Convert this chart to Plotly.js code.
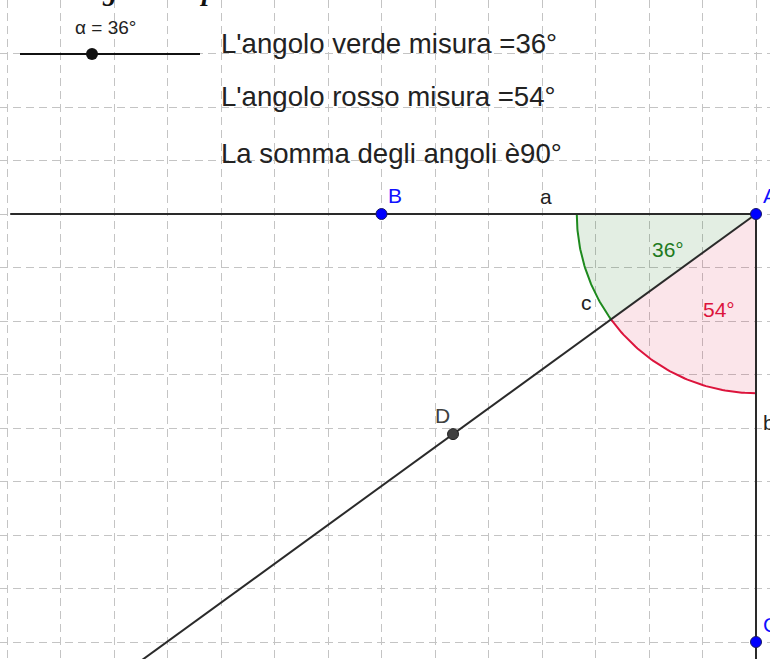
<!DOCTYPE html>
<html>
<head>
<meta charset="utf-8">
<script src="https://cdn.plot.ly/plotly-3.0.1.min.js"></script>
<style>html,body{margin:0;padding:0;background:#fff;}#plot{width:770px;height:659px;}</style>
</head>
<body>
<div id="plot"></div>
<script>
// ---- data ----
const alpha = 36;                       // slider value (degrees)
const sliderMin = 0, sliderMax = 90;
const pointNames = ['A', 'B', 'C', 'D'];
const pointX = [0, -7, 0, -5.663];
const pointY = [0, 0, -8, -4.114];
const segAX = [-13.94, 0];   // line a (horizontal)
const segAY = [0, 0];
const segBX = [0, 0];        // line b (vertical)
const segBY = [0, -8.6];
const sectorRadius = 3.35;
const textLines = [
  "L'angolo verde misura =" + alpha + "°",
  "L'angolo rosso misura =" + (90 - alpha) + "°",
  "La somma degli angoli è" + 90 + "°"
];
const titleText = "Angoli complementari";

// ---- view geometry ----
const W = 770, H = 659;
const unit = 53.5, ox = 756, oy = 214;
const xr = [(0 - ox) / unit, (W - ox) / unit];
const yr = [(oy - H) / unit, (oy - 0) / unit];
const px = p => (p - ox) / unit;
const py = p => (oy - p) / unit;

// line c through A and D, extended to bottom
const yEnd = -8.6;
const slope = (pointY[3] - pointY[0]) / (pointX[3] - pointX[0]);
const segCX = [pointX[0], pointX[0] + (yEnd - pointY[0]) / slope];
const segCY = [pointY[0], yEnd];

function sector(a0, a1, r) {
  const xs = [0], ys = [0];
  const n = 60;
  for (let i = 0; i <= n; i++) {
    const t = (a0 + (a1 - a0) * i / n) * Math.PI / 180;
    xs.push(r * Math.cos(t)); ys.push(r * Math.sin(t));
  }
  xs.push(0); ys.push(0);
  return {xs, ys};
}
function arc(a0, a1, r) {
  const xs = [], ys = [];
  const n = 60;
  for (let i = 0; i <= n; i++) {
    const t = (a0 + (a1 - a0) * i / n) * Math.PI / 180;
    xs.push(r * Math.cos(t)); ys.push(r * Math.sin(t));
  }
  return {xs, ys};
}
const green = sector(180, 180 + alpha, sectorRadius);
const red = sector(180 + alpha, 270, sectorRadius);
const greenArc = arc(180, 180 + alpha, sectorRadius);
const redArc = arc(180 + alpha, 270, sectorRadius);

// slider geometry
const sx0 = px(20), sx1 = px(200), sy = py(54);
const sliderPos = sx0 + (sx1 - sx0) * (alpha - sliderMin) / (sliderMax - sliderMin);

const lineCol = '#2a2a2a';
const traces = [
  {x: green.xs, y: green.ys, mode: 'lines', fill: 'toself', fillcolor: 'rgba(0,100,0,0.11)', line: {width: 0}, hoverinfo: 'skip'},
  {x: red.xs, y: red.ys, mode: 'lines', fill: 'toself', fillcolor: 'rgba(220,20,60,0.11)', line: {width: 0}, hoverinfo: 'skip'},
  {x: greenArc.xs, y: greenArc.ys, mode: 'lines', line: {color: '#1e8a1e', width: 2}},
  {x: redArc.xs, y: redArc.ys, mode: 'lines', line: {color: '#dc143c', width: 2}},
  {x: segAX, y: segAY, mode: 'lines', line: {color: lineCol, width: 2}},
  {x: segBX, y: segBY, mode: 'lines', line: {color: lineCol, width: 2}},
  {x: segCX, y: segCY, mode: 'lines', line: {color: lineCol, width: 2}},
  {x: [sx0, sx1], y: [sy, sy], mode: 'lines', line: {color: '#111', width: 2}},
  {x: [sliderPos], y: [sy], mode: 'markers', marker: {color: '#111', size: 12}},
  {x: pointX.slice(0, 3), y: pointY.slice(0, 3), mode: 'markers',
   marker: {color: '#0000ff', size: 11, line: {color: '#1a1a66', width: 1}}},
  {x: [pointX[3]], y: [pointY[3]], mode: 'markers',
   marker: {color: '#404040', size: 11, line: {color: '#222', width: 1}}}
];

const ann = [];
function addText(text, pxX, pxY, size, color, xanchor, extra) {
  ann.push(Object.assign({x: px(pxX), y: py(pxY), xref: 'x', yref: 'y', text: text,
    showarrow: false, xanchor: xanchor || 'center', yanchor: 'middle',
    font: {family: 'Liberation Sans, Arial, sans-serif', size: size, color: color}}, extra || {}));
}
textLines.forEach((t, i) => addText(t, 219, [43, 96, 153][i], 27.6, '#222', 'left'));
addText('α = ' + alpha + '°', 105, 27, 19, '#222');
addText(alpha + '°', 668, 249, 21, '#1e7a1e');
addText((90 - alpha) + '°', 719, 309, 21, '#dc143c');
addText('a', 546, 196, 21, '#222');
addText('b', 761, 422, 21, '#222', 'left');
addText('c', 586, 302, 21, '#222');
addText(pointNames[0], 761, 195, 21, '#1010ff', 'left');
addText(pointNames[1], 395, 195, 21, '#1010ff');
addText(pointNames[2], 761, 624, 21, '#1010ff', 'left');
addText(pointNames[3], 442, 415, 21, '#404040');
// cut-off heading above the view (only descenders visible)
ann.push({x: 65 / W, y: 1 + 10 / H, xref: 'paper', yref: 'paper', text: titleText,
  showarrow: false, xanchor: 'left', yanchor: 'middle',
  font: {family: 'Liberation Serif, Times New Roman, serif', size: 28, color: '#111', style: 'italic', weight: 'bold'}});

const layout = {
  width: W, height: H,
  margin: {l: 0, r: 0, t: 0, b: 0},
  paper_bgcolor: '#ffffff', plot_bgcolor: '#ffffff',
  showlegend: false,
  xaxis: {range: xr, dtick: 1, tick0: 0, showticklabels: false, ticks: '', zeroline: false,
          showgrid: true, gridcolor: '#c4c4c4', gridwidth: 1, griddash: '8px,5px', fixedrange: true},
  yaxis: {range: yr, dtick: 1, tick0: 0, showticklabels: false, ticks: '', zeroline: false,
          showgrid: true, gridcolor: '#c4c4c4', gridwidth: 1, griddash: '8px,5px', fixedrange: true},
  annotations: ann
};
Plotly.newPlot('plot', traces, layout, {staticPlot: true, displayModeBar: false});
</script>
</body>
</html>
